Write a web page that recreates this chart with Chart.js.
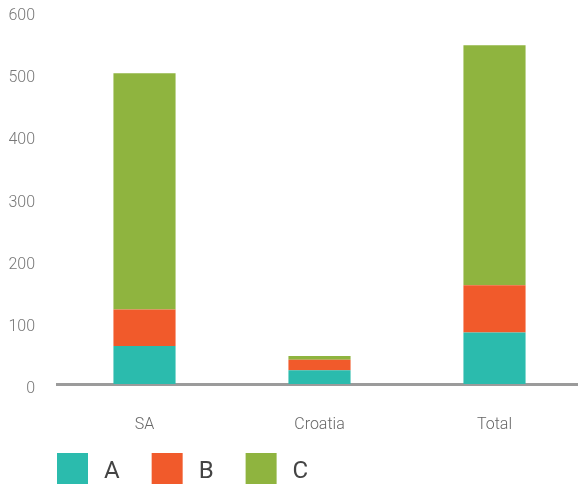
<!DOCTYPE html>
<html>
<head>
<meta charset="utf-8">
<style>
  html, body { margin: 0; padding: 0; background: #fff; overflow: hidden; }
  #wrap { width: 578px; height: 490px; position: relative; overflow: hidden; }
</style>
<script src="https://cdn.jsdelivr.net/npm/chart.js@4/dist/chart.umd.min.js"></script>
</head>
<body>
<div id="wrap"><canvas id="chart" width="582" height="490"></canvas></div>
<script>
// Categories and stacked series values
const categories = ['SA', 'Croatia', 'Total'];
const seriesNames = ['A', 'B', 'C'];
const seriesA = [61, 22, 83];
const seriesB = [59, 17, 76];
const seriesC = [380, 6, 386];
const yTicks = [0, 100, 200, 300, 400, 500, 600];

const colors = ['#2bbbad', '#f15a2b', '#8fb43f'];
const values = [seriesA, seriesB, seriesC];

// Legend drawn along the bottom of the canvas: coloured square + label
const bottomLegend = {
  id: 'bottomLegend',
  afterDraw(chart) {
    const ctx = chart.ctx;
    ctx.save();
    ctx.font = '400 24px Roboto';
    ctx.textBaseline = 'alphabetic';
    ctx.textAlign = 'left';
    let x = 57;
    const top = 453, box = 31;
    chart.data.datasets.forEach(ds => {
      ctx.fillStyle = ds.backgroundColor;
      ctx.fillRect(x, top, box, box);
      ctx.fillStyle = '#444';
      const tx = x + box + 16;
      ctx.fillText(ds.label, tx, 477.8);
      x = tx + ctx.measureText(ds.label).width + 32;
    });
    ctx.restore();
  }
};

new Chart(document.getElementById('chart'), {
  type: 'bar',
  data: {
    labels: categories,
    datasets: seriesNames.map((name, i) => ({
      label: name,
      data: values[i],
      backgroundColor: colors[i],
      borderWidth: 0,
      barPercentage: 0.355,
      categoryPercentage: 1
    }))
  },
  options: {
    responsive: false,
    animation: false,
    layout: { padding: { top: 11, left: 0, right: 0, bottom: 0 } },
    plugins: {
      legend: { display: false },
      tooltip: { enabled: false }
    },
    scales: {
      x: {
        stacked: true,
        z: 1,
        grid: { display: false },
        border: { display: true, color: '#9b9b9b', width: 3 },
        ticks: {
          padding: 23,
          color: '#666',
          font: { family: 'Roboto', weight: 300, size: 16 }
        },
        afterFit(scale) { scale.height = 106; }
      },
      y: {
        stacked: true,
        min: 0,
        max: 600,
        afterBuildTicks(scale) { scale.ticks = yTicks.map(v => ({ value: v })); },
        grid: { display: false },
        border: { display: false },
        ticks: {
          padding: 14,
          labelOffset: 5,
          color: '#777',
          font: { family: 'Roboto', weight: 300, size: 16 }
        },
        afterFit(scale) {
          scale.width = 57;
          scale.paddingTop = 0;
          scale.paddingBottom = 0;
        }
      }
    }
  },
  plugins: [bottomLegend]
});
</script>
</body>
</html>
